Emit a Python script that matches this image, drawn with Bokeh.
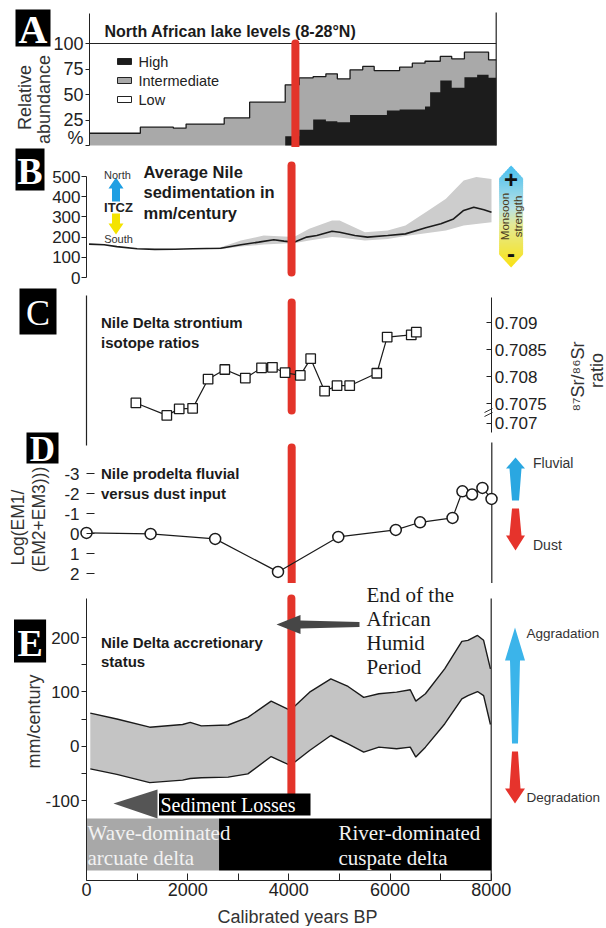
import numpy as np
from bokeh.plotting import figure
from bokeh.models import Range1d, LinearAxis, FixedTicker
from bokeh.layouts import column
from bokeh.core.properties import value
from bokeh.embed import file_html
from bokeh.resources import INLINE

SANS = "Liberation Sans"
SERIF = "Liberation Serif"
RED = "#e3342a"
INK = "#1b1b1b"
CANVAS_W = 606

# ---------------- data ----------------
AHP_END = 4050          # red marker, years BP

# A  North African lake levels (% of lakes)
A_EDGES = [0, 1000, 1650, 1900, 2650, 3150, 3850, 4125, 4400, 4650, 4875, 5125, 5375,
           5600, 5850, 6100, 6350, 6600, 6700, 6900, 7125, 7375, 7625, 7850, 8000]
A_HIGH = [0, 0, 0, 0, 0, 0, 9, 15.4, 25.5, 23.8, 22.8, 30, 30, 30, 34.3, 35.3, 35.3,
          38.2, 52.3, 63.7, 56.5, 67, 69.3, 66.3]
A_INTER = [12, 18, 17, 21, 27, 42.5, 50.5, 50.9, 42.1, 46.5, 42.6, 44.2, 47.5, 43.5,
           39.2, 41.5, 45.4, 44.4, 30.3, 23.6, 28.5, 24.5, 22.2, 17.7]
A_TICKS = [0, 25, 50, 75, 100]
A_LABELS = ["%", "25", "50", "75", "100"]
A_LEGEND = ["High", "Intermediate", "Low"]

# B  Average Nile sedimentation (mm/century)
B_AGE = [50, 350, 600, 1000, 1350, 1750, 2100, 2650, 3050, 3400, 3700, 3900, 4100, 4350,
         4550, 4850, 5000, 5300, 5550, 5950, 6300, 6700, 7000, 7250, 7450, 7650, 7850, 8000]
B_SED = [165, 162, 153, 142, 139, 140, 142, 145, 162, 175, 187, 180, 175, 200, 208, 229,
         224, 208, 200, 208, 216, 246, 266, 290, 332, 348, 335, 323]
B_BAND_AGE = [2300, 2650, 3050, 3500, 3900, 4100, 4400, 4850, 5000, 5500, 5950, 6300,
              6700, 7100, 7450, 7700, 8000]
B_BAND_HI = [143, 150, 183, 208, 203, 200, 241, 282, 282, 224, 233, 257, 323, 390, 480, 497, 488]
B_BAND_LO = [141, 140, 153, 163, 168, 170, 183, 200, 198, 183, 191, 205, 219, 233, 257, 265, 274]
B_TICKS = [0, 100, 200, 300, 400, 500]

# C  Nile Delta strontium isotope ratios
C_AGE = [975, 1585, 1830, 2095, 2400, 2730, 3135, 3455, 3670, 3920, 4220, 4425, 4700,
         4945, 5195, 5730, 5935, 6410, 6510]
C_SR = [0.70751, 0.70728, 0.70740, 0.70741, 0.70795, 0.70813, 0.70797, 0.70816, 0.70817,
        0.70807, 0.70802, 0.70833, 0.70773, 0.70783, 0.70783, 0.70806, 0.70873, 0.70877, 0.70882]
C_TICKS = [0.70713, 0.7075, 0.708, 0.7085, 0.709]
C_LABELS = ["0.707", "0.7075", "0.708", "0.7085", "0.709"]

# D  Nile prodelta fluvial versus dust input
D_AGE = [0, 1265, 2540, 3780, 4970, 6105, 6585, 7225, 7420, 7610, 7815, 7995]
D_LOG = [-0.05, 0.0, 0.25, 1.9, 0.15, -0.2, -0.58, -0.8, -2.13, -1.97, -2.3, -1.75]
D_TICKS = [-3, -2, -1, 0, 1, 2]

# E  Nile Delta accretionary status (mm/century)
E_AGE = [75, 600, 1250, 1900, 2050, 2270, 2800, 3190, 3650, 4030, 4410, 4830, 5170, 5480,
         5780, 6130, 6400, 6510, 6700, 7080, 7420, 7540, 7730, 7850, 7985]
E_HI = [61, 50, 35, 40, 44, 37.5, 39, 53, 83, 66, 99.5, 124, 110, 90, 96.5, 99.5, 104, 83,
        96.5, 142.5, 193, 195, 204, 195, 142.5]
E_LO = [-41.7, -52, -67, -62.5, -59.5, -58, -57, -51, -19, -35.5, -8, 19.7, 4.4, -11, -1.8,
        -4.8, -1.8, -20, -1.8, 41, 87, 93, 100.7, 93, 40]
E_TICKS = [-100, -50, 0, 50, 100, 150, 200]
E_LABELS = ["-100", "", "0", "", "100", "", "200"]
DELTA_SHIFT = 2620
X_TICKS = [0, 1000, 2000, 3000, 4000, 5000, 6000, 7000, 8000]
X_LABELS = ["0", "", "2000", "", "4000", "", "6000", "", "8000"]


# ---------------- helpers ----------------
def lin(anchors):
    (d0, p0), (d1, p1) = anchors
    s = (d1 - d0) / (p1 - p0)
    return lambda px: d0 + (px - p0) * s


def make_panel(top, bottom, xa, ya):
    fx, fy = lin(xa), lin(ya)
    p = figure(width=CANVAS_W, height=bottom - top,
               x_range=Range1d(fx(0), fx(CANVAS_W)), y_range=Range1d(fy(bottom), fy(top)),
               x_axis_type=None, y_axis_type=None, toolbar_location=None,
               output_backend="svg", min_border=0, title=None)
    p.outline_line_color = None
    p.background_fill_color = "white"
    p.border_fill_color = "white"
    return p, fx, fy


def txt(p, x, y, s, size, font=SANS, color=INK, align="left", angle=0.0, bold=False):
    p.text(x=[x], y=[y], text=[s], angle=angle, text_font=value(font),
           text_font_size=value(f"{size}px"), text_color=color, text_align=align,
           text_baseline="middle", text_font_style="bold" if bold else "normal")


def add_axis(p, side, loc, ticks, labels, bounds, tick_in=0, tick_out=5, standoff=2,
             size=17, line=True, **kw):
    ax = LinearAxis(fixed_location=loc, ticker=FixedTicker(ticks=ticks),
                    major_label_overrides={t: l for t, l in zip(ticks, labels)},
                    major_tick_in=tick_in, major_tick_out=tick_out,
                    major_label_standoff=standoff,
                    major_label_text_font=SANS, major_label_text_font_size=f"{size}px",
                    major_label_text_color="#222", major_tick_line_color="#222",
                    minor_tick_line_color=None,
                    axis_line_color="#222" if line else None, **kw)
    ax.bounds = bounds
    p.add_layout(ax, side)
    return ax


def poly(p, fx, fy, pts, color):
    p.patch([fx(a) for a, b in pts], [fy(b) for a, b in pts], fill_color=color, line_color=None)


def letter(p, fx, fy, l, r, t, b, ch, size, bold=True):
    p.quad(left=[fx(l)], right=[fx(r)], top=[fy(t)], bottom=[fy(b)],
           fill_color="black", line_color=None)
    txt(p, fx((l + r) / 2), fy((t + b) / 2 + 1.5), ch, size, font=SERIF, color="white",
        align="center", bold=bold)


def vseg(p, fx, fy, x, y0, y1, color="#222", width=1.0):
    p.segment(x0=[x], y0=[fy(y0)], x1=[x], y1=[fy(y1)], line_color=color, line_width=width)


def red(p, fy, y0, y1):
    p.segment(x0=[AHP_END], y0=[fy(y0)], x1=[AHP_END], y1=[fy(y1)], line_color=RED,
              line_width=8, line_cap="round")


def step_xy(edges, vals):
    xs, ys = [], []
    for i, v in enumerate(vals):
        xs += [edges[i], edges[i + 1]]
        ys += [v, v]
    return xs, ys


# ---------------- Panel A ----------------
pA, ax_, ay_ = make_panel(0, 147, ((0, 89), (8000, 495.7)), ((0, 145), (100, 43)))
cum = [h + i for h, i in zip(A_HIGH, A_INTER)]
gx, gy = step_xy(A_EDGES, cum)
pA.patch([A_EDGES[0]] + gx + [A_EDGES[-1]], [0] + gy + [0], fill_color="#a9a9a9", line_color=None)
hx, hy = step_xy(A_EDGES, A_HIGH)
pA.patch([A_EDGES[0]] + hx + [A_EDGES[-1]], [0] + hy + [0], fill_color="#1c1c1c", line_color=None)
pA.line(gx, gy, line_color=INK, line_width=1.3)
pA.segment(x0=[0], y0=[100], x1=[8000], y1=[100], line_color="#222", line_width=1.2)
vseg(pA, ax_, ay_, 8000, 145, 12, width=1.2)
add_axis(pA, "left", 0, A_TICKS, A_LABELS, (0, ay_(13)), tick_out=4, standoff=2, size=18)
red(pA, ay_, 43, 147)
txt(pA, ax_(104), ay_(31), "North African lake levels (8-28°N)", 16, bold=True)
for k, (lab, col) in enumerate(zip(A_LEGEND, ["#1c1c1c", "#a9a9a9", "white"])):
    yc = 61 + 19 * k
    pA.quad(left=[ax_(117)], right=[ax_(131)], top=[ay_(yc - 3)], bottom=[ay_(yc + 3)],
            fill_color=col, line_color="#222", line_width=1)
    txt(pA, ax_(138), ay_(yc), lab, 14.5, color="#222")
letter(pA, ax_, ay_, 15, 50, 9, 46, "A", 40)
txt(pA, ax_(24), ay_(97), "Relative", 18, color="#333", align="center", angle=np.pi / 2)
txt(pA, ax_(43), ay_(99), "abundance", 18, color="#333", align="center", angle=np.pi / 2)

# ---------------- Panel B ----------------
pB, bx, by = make_panel(147, 287, ((0, 86), (8000, 491)), ((0, 277), (500, 176)))
pB.patch(B_BAND_AGE + B_BAND_AGE[::-1], B_BAND_HI + B_BAND_LO[::-1], fill_color="#cdcdcd",
         line_color=None)
pB.line(B_AGE, B_SED, line_color=INK, line_width=1.6)
add_axis(pB, "left", 0, B_TICKS, [str(t) for t in B_TICKS], (0, 500), tick_out=5, standoff=1, size=17)
red(pB, by, 165, 272)
for k, s in enumerate(["Average Nile", "sedimentation in", "mm/century"]):
    txt(pB, bx(143), by(171 + 20.5 * k), s, 16.5, bold=True)
# ITCZ indicator
poly(pB, bx, by, [(115.5, 177), (123, 188), (119.5, 188), (119.5, 201), (111.5, 201),
                  (111.5, 188), (108, 188)], "#1f9fe3")
poly(pB, bx, by, [(111.5, 213), (119.5, 213), (119.5, 223), (123, 223), (115.5, 234),
                  (108, 223), (111.5, 223)], "#f4e300")
txt(pB, bx(117), by(174), "North", 11, color="#333", align="center")
txt(pB, bx(118), by(207), "ITCZ", 13, color="#222", align="center", bold=True)
txt(pB, bx(118), by(238.5), "South", 11, color="#333", align="center")
# monsoon strength arrow
mx0, mhalf, mtop, mbot = 510.6, 12.0, 165.0, 267.0


def mw(y):
    if y < mtop + 13:
        return mhalf * (y - mtop) / 13
    if y > mbot - 13:
        return mhalf * (mbot - y) / 13
    return mhalf


stops = [(0.0, (70, 190, 240)), (0.42, (185, 226, 228)), (0.58, (228, 234, 150)),
         (1.0, (250, 226, 20))]


def grad(t):
    for (t0, c0), (t1, c1) in zip(stops[:-1], stops[1:]):
        if t <= t1:
            f = (t - t0) / (t1 - t0)
            return "#%02x%02x%02x" % tuple(int(round(a + (b - a) * f)) for a, b in zip(c0, c1))
    return "#%02x%02x%02x" % stops[-1][1]


edges = sorted(set([float(v) for v in np.linspace(mtop, mbot, 52)] + [mtop + 13, mbot - 13]))
mxs, mys, mcols = [], [], []
for a, b in zip(edges[:-1], edges[1:]):
    b2 = min(b + 0.6, mbot)
    mxs.append([bx(mx0 - mw(a)), bx(mx0 + mw(a)), bx(mx0 + mw(b2)), bx(mx0 - mw(b2))])
    mys.append([by(a), by(a), by(b2), by(b2)])
    mcols.append(grad(((a + b) / 2 - mtop) / (mbot - mtop)))
pB.patches(mxs, mys, fill_color=mcols, line_color=None)
txt(pB, bx(510.6), by(179), "+", 24, color="#111", align="center", bold=True)
txt(pB, bx(510.6), by(253), "-", 24, color="#111", align="center", bold=True)
txt(pB, bx(504.5), by(216), "Monsoon", 11.5, color="#4a3a20", align="center", angle=np.pi / 2)
txt(pB, bx(517.5), by(216), "strength", 11.5, color="#4a3a20", align="center", angle=np.pi / 2)
letter(pB, bx, by, 15, 44, 148, 190, "B", 38)

# ---------------- Panels C + D (one canvas, two y scales) ----------------
CD_TOP, CD_BOT = 287, 583
pCD, dx, dy = make_panel(CD_TOP, CD_BOT, ((0, 86), (8000, 491.3)), ((0, 533.4), (1, 553.4)))
sr_y = lin(((0.709, 322), (0.7075, 403)))
pCD.extra_y_ranges = {"sr": Range1d(sr_y(CD_BOT), sr_y(CD_TOP))}

# C part
vseg(pCD, dx, dy, 0, 295, 445, width=1.2)
add_axis(pCD, "right", 8000, C_TICKS, C_LABELS, (sr_y(432), sr_y(297)), tick_in=5, tick_out=0,
         standoff=3, size=17, y_range_name="sr")
pCD.segment(x0=[dx(484), dx(484)], y0=[dy(412), dy(416)], x1=[dx(492), dx(492)],
            y1=[dy(408), dy(412)], line_color="#333", line_width=1)
red(pCD, dy, 302, 410)
pCD.line(C_AGE, C_SR, line_color=INK, line_width=1.2, y_range_name="sr")
pCD.scatter(C_AGE, C_SR, marker="square", size=9.5, fill_color="white", line_color=INK,
            line_width=1.3, y_range_name="sr")
txt(pCD, dx(100.5), dy(322), "Nile Delta strontium", 15, bold=True)
txt(pCD, dx(100.5), dy(342), "isotope ratios", 15, bold=True)
txt(pCD, dx(577), dy(376), "⁸⁷Sr/⁸⁶Sr", 18, color="#333", align="center", angle=np.pi / 2)
txt(pCD, dx(596), dy(370), "ratio", 18, color="#333", align="center", angle=np.pi / 2)
letter(pCD, dx, dy, 19, 56, 288, 334, "C", 36, bold=False)

# D part
vseg(pCD, dx, dy, 8000, 442, 583, width=1.2)
add_axis(pCD, "left", 0, D_TICKS, [str(t) for t in D_TICKS], (-3, 2), tick_in=8, tick_out=0,
         standoff=7, size=17, line=False)
red(pCD, dy, 447, 590)
pCD.line(D_AGE, D_LOG, line_color=INK, line_width=1.2)
pCD.scatter(D_AGE, D_LOG, marker="circle", size=11, fill_color="white", line_color=INK,
            line_width=1.5)
txt(pCD, dx(100.5), dy(473), "Nile prodelta fluvial", 15, bold=True)
txt(pCD, dx(100.5), dy(493), "versus dust input", 15, bold=True)
poly(pCD, dx, dy, [(515, 457), (524.5, 468), (521, 468), (518.5, 500), (511.5, 500),
                   (509, 468), (505.5, 468)], "#2aa7e1")
poly(pCD, dx, dy, [(511.5, 508), (518.5, 508), (521, 535), (524.5, 535), (515, 550),
                   (505.5, 535), (509, 535)], "#e6332c")
txt(pCD, dx(532.5), dy(462), "Fluvial", 14, color="#333")
txt(pCD, dx(532.5), dy(544), "Dust", 14, color="#333")
letter(pCD, dx, dy, 26, 58, 432, 463, "D", 35)
txt(pCD, dx(17), dy(527), "Log(EM1/", 17.5, color="#333", align="center", angle=np.pi / 2)
txt(pCD, dx(38), dy(519), "(EM2+EM3)))", 17.5, color="#333", align="center", angle=np.pi / 2)

# ---------------- Panel E ----------------
pE, ex, ey = make_panel(583, 926, ((0, 86), (8000, 490.7)), ((0, 745.7), (100, 691.4)))
pE.patch(E_AGE + E_AGE[::-1], E_HI + E_LO[::-1], fill_color="#c4c4c4", line_color=None)
pE.line(E_AGE, E_HI, line_color=INK, line_width=1.4)
pE.line(E_AGE, E_LO, line_color=INK, line_width=1.4)
vseg(pE, ex, ey, 8000, 598, 880, width=1.2)
red(pE, ey, 598, 806)
# delta type bar
pE.quad(left=[0], right=[DELTA_SHIFT], top=[ey(818)], bottom=[ey(870)], fill_color="#a8a8a8",
        line_color=None)
pE.quad(left=[DELTA_SHIFT], right=[8000], top=[ey(818)], bottom=[ey(870)], fill_color="black",
        line_color=None)
for s, xx, yy in [("Wave-dominated", 87, 832), ("arcuate delta", 87, 857),
                  ("River-dominated", 338, 832), ("cuspate delta", 338, 857)]:
    txt(pE, ex(xx), ey(yy), s, 21, font=SERIF, color="#f2f2f2")
# sediment losses
poly(pE, ex, ey, [(113, 803), (157, 789), (157, 818)], "#555555")
pE.quad(left=[ex(158.5)], right=[ex(310)], top=[ey(793)], bottom=[ey(815)], fill_color="black",
        line_color=None)
txt(pE, ex(160), ey(804), "Sediment Losses", 20, font=SERIF, color="white")
# end of AHP
poly(pE, ex, ey, [(276, 624), (300, 614.5), (300, 620), (359, 621.5), (359, 626.5),
                  (300, 628), (300, 633.5)], "#464646")
for k, s in enumerate(["End of the", "African", "Humid", "Period"]):
    txt(pE, ex(366), ey(594 + 24.3 * k), s, 21, font=SERIF, color="#1a1a1a")
# aggradation / degradation
poly(pE, ex, ey, [(514.5, 627), (524.5, 660), (519.5, 660), (517.5, 743), (511.5, 743),
                  (509.5, 660), (504.5, 660)], "#3bb4ea")
poly(pE, ex, ey, [(511.5, 751), (517.5, 751), (520, 788), (524.5, 788), (514.5, 803),
                  (504.5, 788), (509, 788)], "#e6332c")
txt(pE, ex(526), ey(633), "Aggradation", 13.5, color="#333")
txt(pE, ex(526), ey(797), "Degradation", 13.5, color="#333")
add_axis(pE, "left", 0, E_TICKS, E_LABELS, (ey(880), ey(598)), tick_out=5, standoff=2, size=17)
add_axis(pE, "below", ey(880), X_TICKS, X_LABELS, (0, 8000), tick_in=7, tick_out=0,
         standoff=2, size=18)
txt(pE, ex(100.5), ey(642), "Nile Delta accretionary", 15, bold=True)
txt(pE, ex(100.5), ey(661), "status", 15, bold=True)
letter(pE, ex, ey, 13.5, 45.6, 619, 662, "E", 38)
txt(pE, ex(33), ey(721), "mm/century", 18, color="#333", align="center", angle=np.pi / 2)
txt(pE, ex(297), ey(916), "Calibrated years BP", 18, color="#333", align="center")

layout = column(pA, pB, pCD, pE, spacing=0)
open("out.html", "w").write(file_html(layout, INLINE))
